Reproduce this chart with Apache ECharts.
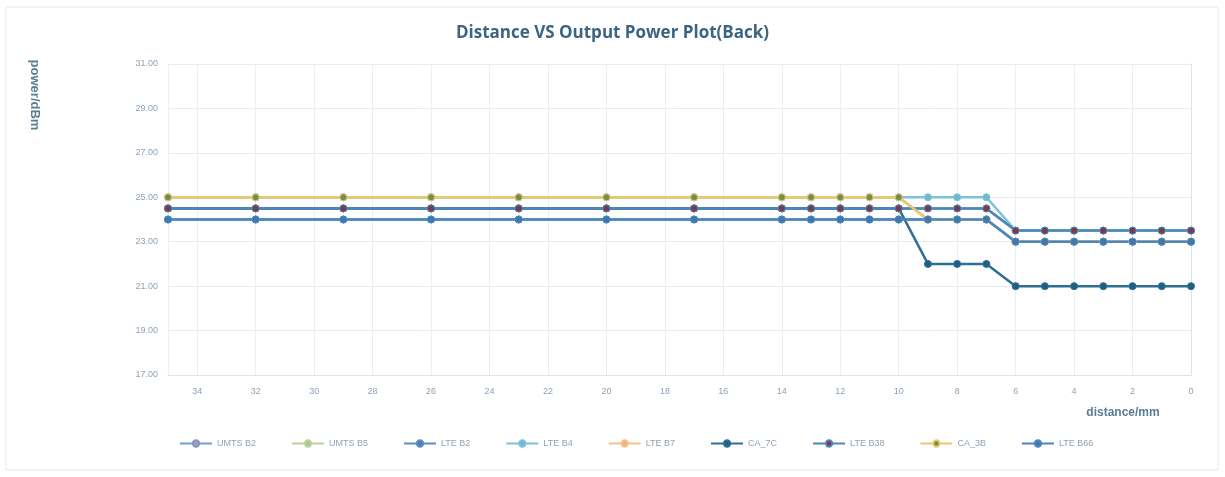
<!DOCTYPE html>
<html>
<head>
<meta charset="utf-8">
<script src="https://cdn.jsdelivr.net/npm/echarts@6/dist/echarts.min.js"></script>
<style>
  html, body { margin: 0; padding: 0; background: #fff; }
  #main { width: 1225px; height: 477px; }
</style>
</head>
<body>
<div id="main"></div>
<script>
// distance (mm)
const distances = [35, 32, 29, 26, 23, 20, 17, 14, 13, 12, 11, 10, 9, 8, 7, 6, 5, 4, 3, 2, 1, 0];

// output power (dBm) per band
const umtsB2 = [24.5, 24.5, 24.5, 24.5, 24.5, 24.5, 24.5, 24.5, 24.5, 24.5, 24.5, 24.5, 24.5, 24.5, 24.5, 23.5, 23.5, 23.5, 23.5, 23.5, 23.5, 23.5];
const umtsB5 = [25, 25, 25, 25, 25, 25, 25, 25, 25, 25, 25, 25, 24, 24, 24, 23, 23, 23, 23, 23, 23, 23];
const lteB2 = [24, 24, 24, 24, 24, 24, 24, 24, 24, 24, 24, 24, 24, 24, 24, 23, 23, 23, 23, 23, 23, 23];
const lteB4 = [25, 25, 25, 25, 25, 25, 25, 25, 25, 25, 25, 25, 25, 25, 25, 23.5, 23.5, 23.5, 23.5, 23.5, 23.5, 23.5];
const lteB7 = [25, 25, 25, 25, 25, 25, 25, 25, 25, 25, 25, 25, 24, 24, 24, 23, 23, 23, 23, 23, 23, 23];
const ca7C = [24.5, 24.5, 24.5, 24.5, 24.5, 24.5, 24.5, 24.5, 24.5, 24.5, 24.5, 24.5, 22, 22, 22, 21, 21, 21, 21, 21, 21, 21];
const lteB38 = [24.5, 24.5, 24.5, 24.5, 24.5, 24.5, 24.5, 24.5, 24.5, 24.5, 24.5, 24.5, 24.5, 24.5, 24.5, 23.5, 23.5, 23.5, 23.5, 23.5, 23.5, 23.5];
const ca3B = [25, 25, 25, 25, 25, 25, 25, 25, 25, 25, 25, 25, 24, 24, 24, 23, 23, 23, 23, 23, 23, 23];
const lteB66 = [24, 24, 24, 24, 24, 24, 24, 24, 24, 24, 24, 24, 24, 24, 24, 23, 23, 23, 23, 23, 23, 23];

const seriesNames = ['UMTS B2', 'UMTS B5', 'LTE B2', 'LTE B4', 'LTE B7', 'CA_7C', 'LTE B38', 'CA_3B', 'LTE B66'];
const seriesValues = [umtsB2, umtsB5, lteB2, lteB4, lteB7, ca7C, lteB38, ca3B, lteB66];
const lineColors = ['#6f9fd0', '#b9d39a', '#5b8cc4', '#7cc3d8', '#f2c28f', '#2f6f95', '#4f86b8', '#e8c870', '#4a86bf'];
const markerColors = ['#d98a9a', '#a8c890', '#4f7fb5', '#6fb8d0', '#f0b080', '#1f5f80', '#7a3a4a', '#6f8f4f', '#3f78ad'];

const chart = echarts.init(document.getElementById('main'));

const axisText = '#8ea3b8';

const option = {
  backgroundColor: '#fff',
  animation: false,
  title: {
    text: 'Distance VS Output Power Plot(Back)',
    left: 'center',
    top: 20,
    textStyle: {
      color: '#3d6480',
      fontSize: 17,
      fontWeight: 'bold',
      fontFamily: 'Open Sans'
    }
  },
  graphic: [
    {
      type: 'rect',
      shape: { x: 6, y: 7, width: 1212, height: 463 },
      style: { fill: 'none', stroke: '#e6e6e6', lineWidth: 1 }
    },
    {
      type: 'text',
      x: 35,
      y: 95,
      rotation: -Math.PI / 2,
      style: {
        text: 'power/dBm',
        fill: '#5a7d96',
        font: 'bold 13px Liberation Sans',
        align: 'center',
        verticalAlign: 'middle'
      }
    },
    {
      type: 'text',
      x: 1123,
      y: 413,
      style: {
        text: 'distance/mm',
        fill: '#5a7d96',
        font: 'bold 12px Liberation Sans',
        align: 'center',
        verticalAlign: 'middle'
      }
    }
  ],
  grid: {
    left: 168,
    right: 34,
    top: 64,
    bottom: 102
  },
  legend: {
    data: seriesNames,
    left: 174,
    top: 434,
    itemWidth: 32,
    itemHeight: 8,
    itemGap: 35,
    textStyle: { color: axisText, fontSize: 9 }
  },
  xAxis: {
    type: 'value',
    inverse: true,
    min: 0,
    max: 35,
    interval: 2,
    axisLine: { lineStyle: { color: '#d8e4ee' } },
    axisTick: { show: false },
    axisLabel: { color: axisText, fontSize: 9, margin: 12, showMaxLabel: false },
    splitLine: { show: true, lineStyle: { color: '#e8eff5' } }
  },
  yAxis: {
    type: 'value',
    min: 17,
    max: 31,
    interval: 2,
    axisLine: { show: true, lineStyle: { color: '#d8e4ee' } },
    axisTick: { show: false },
    axisLabel: {
      color: axisText,
      fontSize: 9,
      margin: 10,
      formatter: (v) => v.toFixed(2)
    },
    splitLine: { lineStyle: { color: '#e3ecf3' } }
  },
  series: seriesNames.map((name, i) => ({
    name: name,
    type: 'line',
    data: distances.map((d, j) => [d, seriesValues[i][j]]),
    symbol: 'circle',
    symbolSize: 7,
    lineStyle: { width: 2.5, color: lineColors[i] },
    itemStyle: { color: markerColors[i], borderColor: lineColors[i], borderWidth: 1 }
  }))
};

chart.setOption(option);
</script>
</body>
</html>
